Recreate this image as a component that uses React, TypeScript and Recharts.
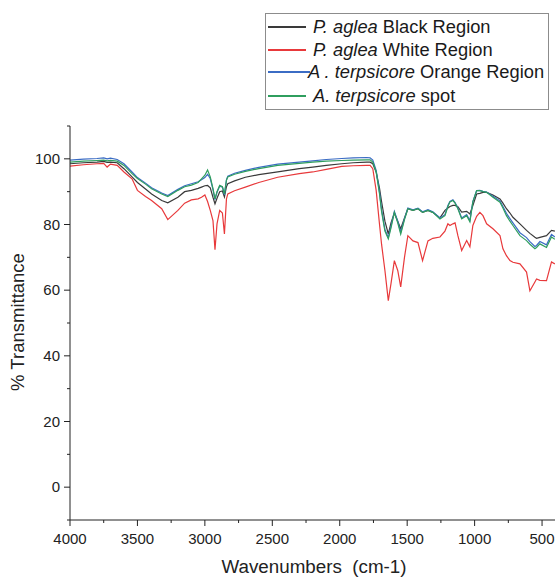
import React from 'react';
import { LineChart, Line, XAxis, YAxis } from 'recharts';

// wavenumbers (cm-1), shared by all four spectra
const WAVENUMBERS = [
  4000, 3900, 3800, 3750, 3725, 3700, 3650, 3600, 3540, 3500,
  3440, 3395, 3320, 3275, 3200, 3150, 3100, 3050, 3025, 3000,
  2980, 2960, 2940, 2925, 2910, 2890, 2870, 2855, 2840, 2830,
  2780, 2700, 2600, 2460, 2300, 2200, 2100, 1985, 1900, 1800,
  1775, 1755, 1730, 1705, 1690, 1665, 1640, 1620, 1595, 1570,
  1548, 1520, 1495, 1457, 1420, 1386, 1346, 1310, 1257, 1220,
  1198, 1183, 1161, 1145, 1124, 1096, 1059, 1035, 1013, 985,
  961, 938, 911, 864, 812, 790, 764, 738, 716, 664,
  615, 590, 553, 541, 516, 467, 430, 405,
];

const BLACK_REGION = [
  98.5, 98.8, 99.0, 99.2, 98.9, 99.0, 98.8, 97.0, 94.5, 92.8,
  90.8, 89.3, 87.3, 86.6, 88.3, 90.0, 90.4, 91.0, 91.4, 91.8,
  91.9, 91.2, 88.3, 86.3, 88.0, 90.0, 90.2, 88.4, 91.5, 92.4,
  93.3, 94.4, 95.2, 96.0, 97.0, 97.5, 98.0, 98.5, 98.8, 99.0,
  99.0, 98.5, 96.0, 91.0, 87.0, 81.0, 77.1, 80.5, 83.5, 81.0,
  78.7, 82.0, 84.8, 84.3, 84.8, 83.7, 84.3, 83.7, 82.0, 84.3,
  85.0, 85.5, 85.8, 85.8, 85.4, 83.8, 84.0, 83.2, 85.8, 89.3,
  89.5, 89.8, 89.8, 89.0, 87.8, 86.5, 84.8, 83.5, 82.2, 80.2,
  78.2, 77.3, 76.1, 75.8, 76.1, 76.6, 78.2, 78.0,
];

const WHITE_REGION = [
  97.8, 98.2, 98.5, 98.6, 97.5, 98.4, 98.0, 96.0, 93.9, 90.4,
  88.5, 87.3, 84.8, 81.5, 84.3, 86.5, 87.5, 87.8, 88.3, 89.0,
  87.0, 84.3, 81.2, 72.3, 80.2, 84.3, 83.5, 77.1, 87.8, 89.3,
  90.3, 91.4, 92.8, 94.4, 95.5, 96.0, 96.8, 97.7, 97.9, 98.0,
  98.0, 97.0, 90.4, 80.0, 74.0, 66.0, 56.8, 62.0, 69.0, 66.0,
  61.0, 70.0, 76.6, 75.0, 74.5, 69.0, 75.0, 75.8, 76.2, 78.0,
  80.2, 79.7, 80.2, 80.5, 76.6, 72.1, 75.1, 73.2, 79.7, 82.5,
  83.7, 82.7, 80.2, 78.7, 76.6, 72.6, 70.5, 69.0, 68.5, 68.0,
  65.5, 59.8, 62.5, 63.4, 63.0, 62.9, 68.6, 68.0,
];

const ORANGE_REGION = [
  99.6, 99.9, 100.1, 100.3, 100.0, 100.2, 99.8, 98.5, 96.0, 94.3,
  92.6, 91.2, 89.6, 88.8, 90.7, 91.8, 92.4, 93.0, 93.6, 94.3,
  95.3, 94.0, 90.7, 87.6, 89.8, 91.7, 91.4, 89.0, 93.6, 94.7,
  95.6, 96.5, 97.4, 98.4, 99.0, 99.4, 99.8, 100.1, 100.3, 100.4,
  100.3, 99.6, 96.5, 89.8, 84.5, 78.5, 76.0, 79.5, 84.0, 81.0,
  77.6, 81.8, 85.0, 84.5, 85.0, 83.9, 84.5, 83.9, 82.0, 83.0,
  85.8, 87.0, 87.5, 86.7, 85.0, 82.0, 83.0, 81.2, 87.0, 90.3,
  90.4, 90.1, 89.9, 88.6, 87.2, 85.5, 83.4, 81.8, 80.5, 77.5,
  76.0, 74.8, 73.3, 73.6, 74.8, 73.8, 77.0, 76.2,
];

const SPOT = [
  99.0, 99.3, 99.5, 99.6, 99.4, 99.5, 99.3, 98.0, 95.5, 94.0,
  92.3, 90.9, 89.3, 88.5, 90.4, 91.5, 92.0, 92.8, 93.9, 95.0,
  96.6, 94.5, 90.9, 87.8, 90.0, 91.9, 91.5, 89.3, 93.5, 94.5,
  95.3, 96.2, 97.0, 98.0, 98.6, 99.0, 99.3, 99.5, 99.6, 99.7,
  99.7, 99.0, 96.0, 89.3, 84.0, 78.0, 75.6, 79.0, 83.7, 80.5,
  77.1, 81.5, 84.8, 84.3, 84.8, 83.7, 84.3, 83.7, 81.7, 82.7,
  85.5, 86.9, 87.3, 86.5, 84.8, 81.7, 82.7, 80.8, 86.9, 90.3,
  90.3, 90.0, 89.8, 88.3, 86.8, 85.0, 82.7, 81.0, 79.7, 76.6,
  75.1, 74.0, 72.6, 73.0, 74.1, 73.0, 76.2, 75.5,
];

const X_TICKS = [4000, 3750, 3500, 3250, 3000, 2750, 2500, 2250, 2000, 1750, 1500, 1250, 1000, 750, 500];
const Y_TICKS = [-10, 0, 10, 20, 30, 40, 50, 60, 70, 80, 90, 100, 110];

const data = WAVENUMBERS.map((w, i) => ({
  w,
  black: BLACK_REGION[i],
  white: WHITE_REGION[i],
  orange: ORANGE_REGION[i],
  spot: SPOT[i],
}));

const FONT = '"Liberation Sans", Arial, sans-serif';
const INK = '#222';

const XTick = (props: any) => {
  const { x, y, payload } = props;
  const major = payload.value % 500 === 0;
  return (
    <g>
      <line x1={x} x2={x} y1={y} y2={y + (major ? 6 : 3)} stroke={INK} />
      {major && (
        <text x={x} y={y + 24} textAnchor="middle" fontSize={15} fontFamily={FONT} fill={INK}>
          {payload.value}
        </text>
      )}
    </g>
  );
};

const YTick = (props: any) => {
  const { x, y, payload } = props;
  const major = payload.value % 20 === 0;
  return (
    <g>
      <line x1={x} x2={x - (major ? 6 : 3)} y1={y} y2={y} stroke={INK} />
      {major && (
        <text x={x - 10} y={y + 5} textAnchor="end" fontSize={15} fontFamily={FONT} fill={INK}>
          {payload.value}
        </text>
      )}
    </g>
  );
};

const LEGEND = [
  { color: '#3a3a3a', em: 'P. aglea', rest: ' Black Region', lineW: 38, textX: 47 },
  { color: '#e8393b', em: 'P. aglea', rest: ' White Region', lineW: 38, textX: 47 },
  { color: '#3b6cc4', em: 'A . terpsicore', rest: ' Orange Region', lineW: 42, textX: 42 },
  { color: '#2f9e5e', em: 'A. terpsicore', rest: ' spot', lineW: 38, textX: 47 },
];
const LEGEND_ROWS = [13, 36, 58, 82];

export default function App() {
  return (
    <div style={{ position: 'absolute', left: 0, top: 0, width: 555, height: 577, background: '#fff', fontFamily: FONT }}>
      <LineChart width={555} height={577} data={data} margin={{ top: 126, right: 0, bottom: 0, left: 0 }}>
        <XAxis
          dataKey="w"
          type="number"
          reversed
          domain={[404, 4000]}
          allowDataOverflow
          ticks={X_TICKS}
          interval={0}
          tick={XTick}
          tickLine={false}
          tickSize={0}
          tickMargin={0}
          height={57}
          axisLine={{ stroke: INK }}
        />
        <YAxis
          type="number"
          domain={[-10, 110]}
          allowDataOverflow
          ticks={Y_TICKS}
          interval={0}
          tick={YTick}
          tickLine={false}
          tickSize={0}
          tickMargin={0}
          width={70}
          axisLine={{ stroke: INK }}
        />
        <Line dataKey="black" stroke="#3a3a3a" strokeWidth={1.2} dot={false} type="linear" isAnimationActive={false} />
        <Line dataKey="white" stroke="#e8393b" strokeWidth={1.2} dot={false} type="linear" isAnimationActive={false} />
        <Line dataKey="orange" stroke="#3b6cc4" strokeWidth={1.2} dot={false} type="linear" isAnimationActive={false} />
        <Line dataKey="spot" stroke="#2f9e5e" strokeWidth={1.2} dot={false} type="linear" isAnimationActive={false} />
      </LineChart>

      <div style={{ position: 'absolute', left: 212, top: 556, width: 204, textAlign: 'center', fontSize: 18.8, color: INK, whiteSpace: 'pre', lineHeight: '22px' }}>
        {'Wavenumbers  (cm-1)'}
      </div>
      <div
        style={{
          position: 'absolute', left: 18, top: 322, transform: 'translate(-50%, -50%) rotate(-90deg)',
          fontSize: 18.5, color: INK, whiteSpace: 'nowrap', lineHeight: '20px',
        }}
      >
        % Transmittance
      </div>

      <div style={{ position: 'absolute', left: 265, top: 13, width: 282, height: 95, border: '1px solid #8c8c8c', background: '#fff' }}>
        {LEGEND.map((item, i) => (
          <div key={i} style={{ position: 'absolute', left: 0, top: LEGEND_ROWS[i] - 11, height: 22, width: 282 }}>
            <div style={{ position: 'absolute', left: 2, top: 10, width: item.lineW, height: 1.5, background: item.color }} />
            <div style={{ position: 'absolute', left: item.textX, top: 0, lineHeight: '22px', fontSize: 18.3, color: '#1a1a1a', whiteSpace: 'pre' }}>
              <i>{item.em}</i>{item.rest}
            </div>
          </div>
        ))}
      </div>
    </div>
  );
}
